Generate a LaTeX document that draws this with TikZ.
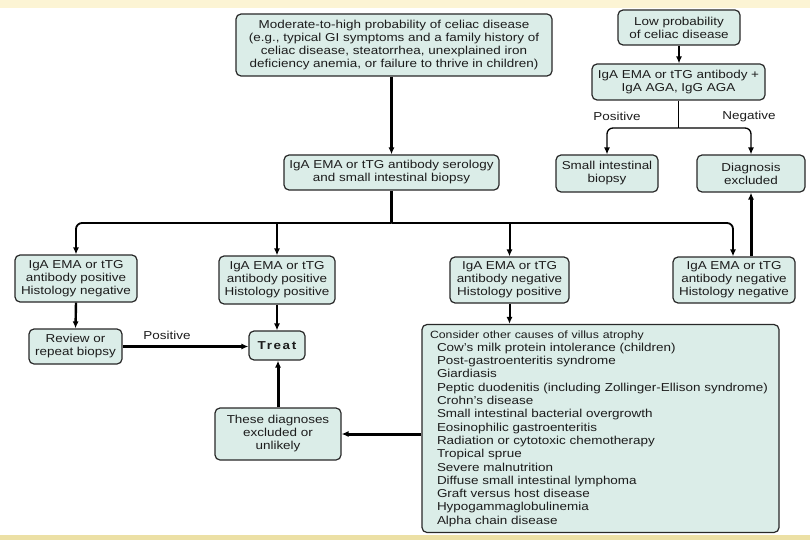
\documentclass[tikz,border=0pt]{standalone}
\usepackage{fontspec}
\setmainfont{Liberation Sans}[FakeStretch=1.17]
\usetikzlibrary{arrows.meta,calc}
\definecolor{boxfill}{RGB}{219,237,232}
\definecolor{boxline}{RGB}{40,40,40}
\definecolor{txt}{RGB}{28,28,28}
\definecolor{bandtop}{RGB}{252,244,212}
\definecolor{bandbot}{RGB}{236,224,165}
\newcommand\fs{\fontsize{11.5}{13}\selectfont}
\newcommand\fl{\fontsize{11.5}{13.3}\selectfont}
\newcommand\ind{\hspace*{7pt}}
\tikzset{
  box/.style={draw=boxline, fill=boxfill, rounded corners=5pt, line width=1.2pt,
    align=center, inner sep=0pt, font=\fs, text=txt},
  lbl/.style={font=\fs, text=txt, inner sep=0pt},
  conn/.style={draw=black, line width=#1, -{Latex[length=7pt,width=6pt]}},
  conn/.default=2pt,
  plain/.style={draw=black, line width=#1},
  plain/.default=1.8pt
}
\begin{document}
\begin{tikzpicture}[x=1pt,y=-1pt]
\useasboundingbox (0,0) rectangle (810,540);
\fill[white] (0,0) rectangle (810,540);
\fill[bandtop] (0,0) rectangle (810,8);
\fill[bandbot] (0,535) rectangle (810,540);

% nodes
\node[box, minimum width=316pt, minimum height=62pt] (top) at (394,45)
  {Moderate-to-high probability of celiac disease\\(e.g., typical GI symptoms and a family history of\\celiac disease, steatorrhea, unexplained iron\\deficiency anemia, or failure to thrive in children)};
\node[box, minimum width=122pt, minimum height=35pt] (low) at (679,27.5)
  {Low probability\\of celiac disease};
\node[box, minimum width=173pt, minimum height=36pt] (aga) at (678.5,82)
  {IgA EMA or tTG antibody +\\IgA AGA, IgG AGA};
\node[box, minimum width=102pt, minimum height=37pt] (sib) at (607,173.5)
  {Small intestinal\\biopsy};
\node[box, minimum width=108pt, minimum height=37pt] (dx) at (751,173.5)
  {Diagnosis\\excluded};
\node[box, minimum width=215pt, minimum height=35pt] (sero) at (391.5,172.5)
  {IgA EMA or tTG antibody serology\\and small intestinal biopsy};
\node[box, minimum width=122pt, minimum height=47pt] (b1) at (76,278.5)
  {IgA EMA or tTG\\antibody positive\\Histology negative};
\node[box, minimum width=116pt, minimum height=48pt] (b2) at (277,280)
  {IgA EMA or tTG\\antibody positive\\Histology positive};
\node[box, minimum width=119pt, minimum height=46pt] (b3) at (509.5,280)
  {IgA EMA or tTG\\antibody negative\\Histology positive};
\node[box, minimum width=122pt, minimum height=46pt] (b4) at (734,280)
  {IgA EMA or tTG\\antibody negative\\Histology negative};
\node[box, minimum width=93pt, minimum height=35pt] (review) at (75.5,346.5)
  {Review or\\repeat biopsy};
\node[box, minimum width=56pt, minimum height=29pt, font=\fs\bfseries\addfontfeature{LetterSpace=14}] (treat) at (277,345.5)
  {Treat};
\node[box, minimum width=126pt, minimum height=52pt] (these) at (278,434)
  {These diagnoses\\excluded or\\unlikely};
\node[box, minimum width=357pt, minimum height=208pt, align=left, text width=341pt, inner xsep=8pt, font=\fl] (consider) at (600.5,428.5)
  {{\fontsize{10.5}{13.3}\selectfont Consider other causes of villus atrophy}\\
   \ind Cow's milk protein intolerance (children)\\
   \ind Post-gastroenteritis syndrome\\
   \ind Giardiasis\\
   \ind Peptic duodenitis (including Zollinger-Ellison syndrome)\\
   \ind Crohn's disease\\
   \ind Small intestinal bacterial overgrowth\\
   \ind Eosinophilic gastroenteritis\\
   \ind Radiation or cytotoxic chemotherapy\\
   \ind Tropical sprue\\
   \ind Severe malnutrition\\
   \ind Diffuse small intestinal lymphoma\\
   \ind Graft versus host disease\\
   \ind Hypogammaglobulinemia\\
   \ind Alpha chain disease};

% labels
\node[lbl] (posL) at (167,335) {Positive};
\node[lbl] (posR) at (617,116) {Positive};
\node[lbl] (negR) at (749,117) {Negative};

% coordinates for buses
\coordinate (busY) at (0,223);
\coordinate (rbY) at (0,128);

% main flow
\draw[conn=2.2pt] (sero.north |- top.south) -- (sero.north);
\draw[plain=2.2pt] (sero.south) -- (sero.south |- busY);
\draw[plain, rounded corners=6pt, -{Latex[length=7pt,width=6pt]}]
  (sero.south |- busY) -- (b1.north |- busY) -- (b1.north);
\draw[plain, rounded corners=6pt, -{Latex[length=7pt,width=6pt]}]
  (sero.south |- busY) -- ($(b4.north |- busY)+(-1,0)$) -- ($(b4.north)+(-1,0)$);
\draw[conn=2.8pt] (b2.north |- busY) -- (b2.north);
\draw[conn] (b3.north |- busY) -- (b3.north);

\draw[conn=2.4pt] (b1.south) -- (review.north);
\draw[conn=2.8pt] (b2.south) -- (treat.north);
\draw[conn=2.4pt] (review.east) -- (treat.west |- review.east);
\draw[conn] (b3.south) -- (b3.south |- consider.north);
\draw[conn=3pt] (consider.west |- these.east) -- (these.east);
\draw[conn=3pt] (these.north) -- (these.north |- treat.south);
\draw[conn=3pt] (dx.south |- b4.north) -- (dx.south);

% low-probability branch
\draw[conn=1.3pt] (low.south) -- (low.south |- aga.north);
\draw[plain=1.3pt] (aga.south) -- (aga.south |- rbY);
\draw[plain=1.3pt, rounded corners=6pt, -{Latex[length=7pt,width=6pt]}]
  (aga.south |- rbY) -- (sib.north |- rbY) -- (sib.north);
\draw[plain=1.3pt, rounded corners=6pt, -{Latex[length=7pt,width=6pt]}]
  (aga.south |- rbY) -- (dx.north |- rbY) -- (dx.north);
\end{tikzpicture}
\end{document}
